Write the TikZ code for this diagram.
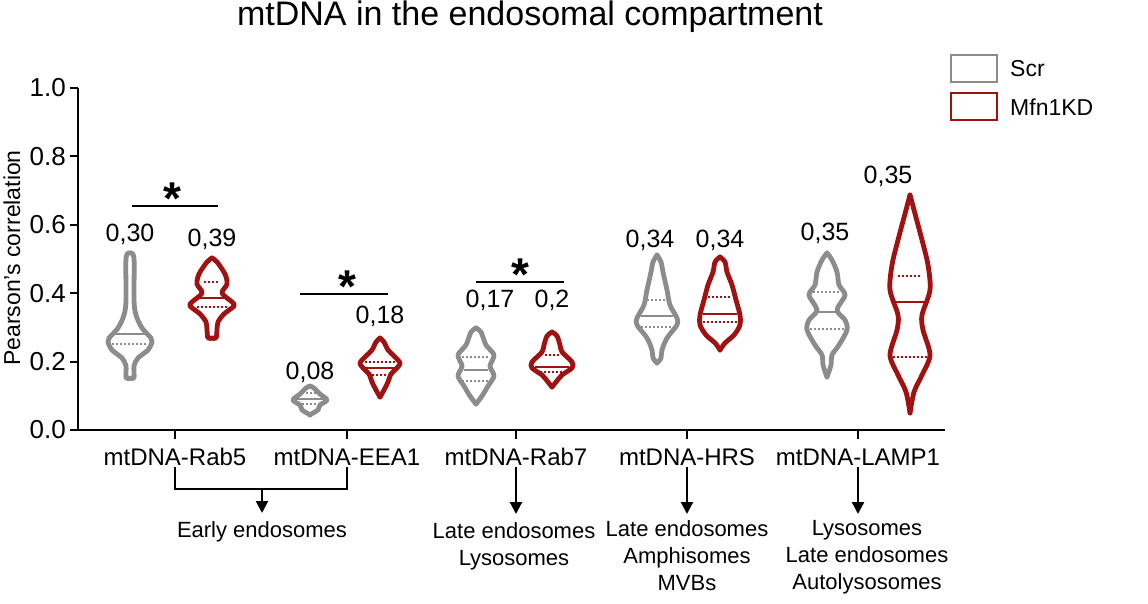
\documentclass[tikz,border=0pt]{standalone}
\usepackage{fontspec}
\setmainfont{Liberation Sans}
\usetikzlibrary{arrows.meta}
\definecolor{vgray}{RGB}{140,140,140}
\definecolor{vred}{RGB}{160,18,18}
\newcommand\myviolin[5]{%
  \foreach \s in {1,-1}{%
    \begin{scope}[shift={(#1,0)},xscale=\s]
      \fill[white] plot[smooth] coordinates{#3} -- cycle;
      \draw[vline,#2] plot[smooth] coordinates{#3};
    \end{scope}}
  \foreach \yy/\ww in {#4} \draw[#2,line width=1.5] ({#1-\ww},\yy)--({#1+\ww},\yy);
  \foreach \yy/\ww in {#5} \draw[#2,line width=1.5,dash pattern=on 1.5 off 2.5] ({#1-\ww},\yy)--({#1+\ww},\yy);
}
\tikzset{vline/.style={line width=4.8,line join=round,line cap=round},
  axis/.style={line width=2.2,black},
  lbl/.style={font=\fontsize{24}{26}\selectfont,inner sep=0},
  val/.style={font=\fontsize{25}{27}\selectfont,inner sep=0},
  tick/.style={font=\fontsize{26}{28}\selectfont,inner sep=0,anchor=east},
  note/.style={font=\fontsize{22}{27}\selectfont,align=center,inner sep=0},
  star/.style={font=\bfseries\fontsize{46}{46}\selectfont,inner sep=0},
  arr/.style={line width=2.2,-{Triangle[length=12,width=12]}}}
\begin{document}
\begin{tikzpicture}[x=1pt,y=-1pt]
\useasboundingbox (0,0) rectangle (1148,604);
\node[font=\fontsize{34}{36}\selectfont,inner sep=0] (title) at (530,17) {mtDNA in the endosomal compartment};
\node[rotate=90,font=\fontsize{23}{25}\selectfont,inner sep=0] (ylab) at (12,258) {Pearson's correlation};
% axes
\coordinate (o) at (78,430);
\coordinate (ytop) at (78,88);
\coordinate (xend) at (945,430);
\draw[axis] (ytop) -- (o) -- (xend);
\foreach \v/\t in {0/0.0,1/0.2,2/0.4,3/0.6,4/0.8,5/1.0}{
  \draw[axis] (70,{430-68.4*\v}) -- (78,{430-68.4*\v});
  \node[tick] (yt\v) at (66,{430-68.4*\v}) {\t};}
\foreach \x in {175,347,516,687,858} \draw[axis] (\x,430) -- (\x,439);
% category labels
\node[lbl] (c1) at (175,457) {mtDNA-Rab5};
\node[lbl] (c2) at (347,457) {mtDNA-EEA1};
\node[lbl] (c3) at (516,457) {mtDNA-Rab7};
\node[lbl] (c4) at (687,457) {mtDNA-HRS};
\node[lbl] (c5) at (858,457) {mtDNA-LAMP1};
% violins
\myviolin{130}{vgray}{(0,253)(4,258)(4,300)(6,315)(12,328)(21,338)(22,342)(18,350)(8,358)(4,366)(4,378)(0,378)}{334/18}{344/18}
\myviolin{212}{vred}{(0,258)(5,262)(13,274)(15,284)(10,293)(20,302)(22,306)(12,314)(6,322)(5,330)(4,338)(0,338)}{298/14}{282/8,307/15}
\myviolin{310}{vgray}{(0,386)(4,388)(10,394)(17,400)(10,405)(8,410)(3,413)(0,415)}{399/14}{393/8,404/8}
\myviolin{380}{vred}{(0,338)(4,342)(8,350)(14,356)(20,363)(16,369)(11,374)(8,382)(4,390)(0,397)}{368/16}{362/15,375/8}
\myviolin{476}{vgray}{(0,328)(5,332)(10,345)(18,355)(14,366)(18,376)(12,386)(6,396)(0,404)}{370/12}{357/14,381/14}
\myviolin{552}{vred}{(0,332)(5,336)(8,345)(10,352)(20,362)(20,368)(10,375)(4,382)(0,387)}{367/17}{355/7,372/12}
\myviolin{657}{vgray}{(0,255)(4,262)(6,272)(10,290)(13,305)(20,318)(20,325)(10,338)(5,350)(4,358)(0,363)}{316/16}{300/10,327/16}
\myviolin{720}{vred}{(0,257)(5,262)(7,272)(12,285)(16,300)(20,315)(20,325)(14,335)(5,343)(0,350)}{314/17}{297/12,322/17}
\myviolin{827}{vgray}{(0,253)(5,260)(10,272)(12,285)(18,295)(10,310)(18,320)(20,330)(12,345)(5,355)(4,365)(0,377)}{312/10}{292/14,329/17}
\myviolin{910}{vred}{(0,195)(4,210)(12,240)(18,265)(20,290)(12,315)(13,330)(20,355)(12,375)(4,392)(0,413)}{302/19}{276/12,357/17}
% value labels
\node[val] (v1) at (130,234) {0,30};
\node[val] (v2) at (212,239) {0,39};
\node[val] (v3) at (310,372) {0,08};
\node[val] (v4) at (380,316) {0,18};
\node[val] (v5) at (490,300) {0,17};
\node[val] (v6) at (552,300) {0,2};
\node[val] (v7) at (650,240) {0,34};
\node[val] (v8) at (720,240) {0,34};
\node[val] (v9) at (825,233) {0,35};
\node[val] (v10) at (888,176) {0,35};
% significance
\coordinate (s1a) at (132,206); \coordinate (s1b) at (218,206);
\coordinate (s2a) at (300,294); \coordinate (s2b) at (388,294);
\coordinate (s3a) at (476,282); \coordinate (s3b) at (564,282);
\draw[axis] (s1a) -- (s1b);
\draw[axis] (s2a) -- (s2b);
\draw[axis] (s3a) -- (s3b);
\node[star] (st1) at (172,199) {*};
\node[star] (st2) at (347,287) {*};
\node[star] (st3) at (520,275) {*};
% brackets and arrows
\coordinate (b1) at (175,467); \coordinate (b2) at (347,467);
\coordinate (b1d) at (175,489); \coordinate (b2d) at (347,489);
\coordinate (bm) at (262,489);
\draw[axis] (b1) -- (b1d) -- (b2d) -- (b2);
\node[note] (n1) at (262,532) {Early endosomes};
\node[note,anchor=north] (n2) at (514,522) {Late endosomes\\Lysosomes};
\node[note,anchor=north] (n3) at (687,520) {Late endosomes\\Amphisomes\\MVBs};
\node[note,anchor=north] (n4) at (867,520) {Lysosomes\\Late endosomes\\Autolysosomes};
\draw[arr] (bm) -- (262,513);
\coordinate (a3) at (516,467); \coordinate (a4) at (687,467); \coordinate (a5) at (858,467);
\draw[arr] (a3) -- (516,514);
\draw[arr] (a4) -- (687,514);
\draw[arr] (a5) -- (858,514);
% legend
\draw[vgray,line width=2.8] (951,55) rectangle (997,82);
\draw[vred,line width=2.8] (951,93) rectangle (997,120);
\node[font=\fontsize{23}{25}\selectfont,inner sep=0,anchor=west] (l1) at (1010,69) {Scr};
\node[font=\fontsize{23}{25}\selectfont,inner sep=0,anchor=west] (l2) at (1010,107) {Mfn1KD};
\end{tikzpicture}
\end{document}
